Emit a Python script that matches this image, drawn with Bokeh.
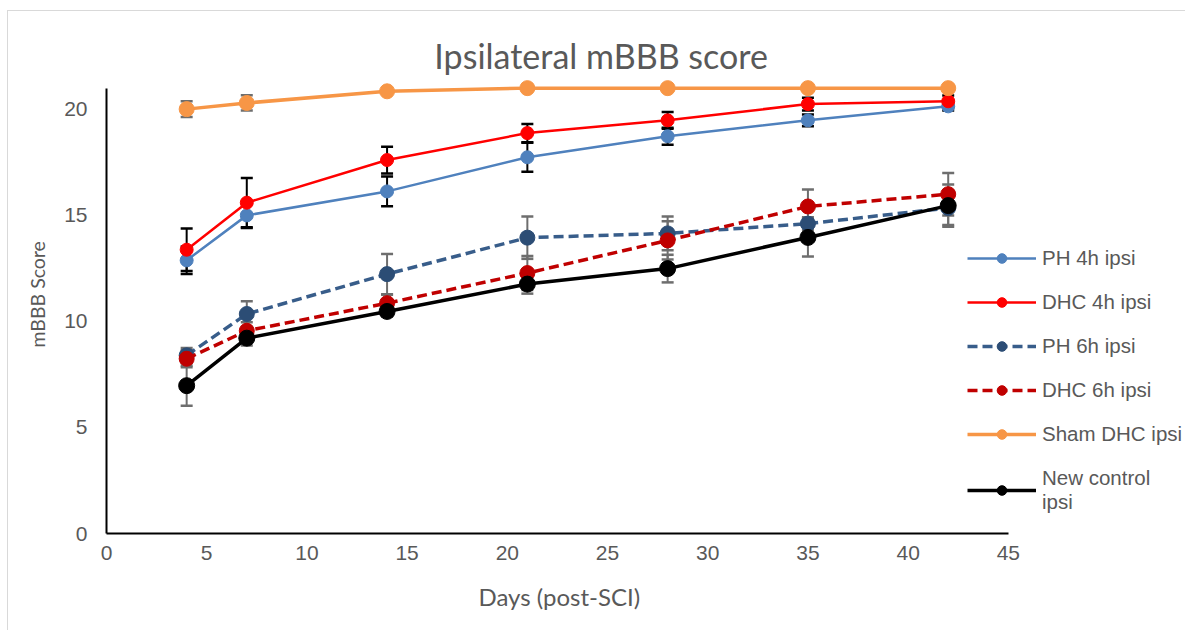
from bokeh.plotting import figure
from bokeh.models import Range1d, FixedTicker, Legend, LegendItem, Label, Title
from bokeh.embed import file_html
from bokeh.resources import INLINE

# ---- data ----
days = [4, 7, 14, 21, 28, 35, 42]

ph4 = [12.88, 15.0, 16.13, 17.74, 18.73, 19.48, 20.14]
ph4_err = [0.65, 0.6, 0.7, 0.68, 0.4, 0.28, 0.2]

dhc4 = [13.38, 15.6, 17.61, 18.88, 19.48, 20.25, 20.38]
dhc4_err = [1.0, 1.16, 0.63, 0.43, 0.4, 0.3, 0.27]

ph6 = [8.4, 10.35, 12.23, 13.95, 14.15, 14.61, 15.35]
ph6_err = [0.35, 0.6, 0.95, 1.0, 0.8, 0.3, 0.8]

dhc6 = [8.24, 9.56, 10.86, 12.28, 13.82, 15.42, 16.0]
dhc6_err = [0.4, 0.4, 0.4, 0.8, 0.9, 0.8, 1.0]

sham = [20.01, 20.3, 20.85, 21.0, 21.0, 21.0, 21.0]
sham_err = [0.37, 0.36, 0.0, 0.0, 0.0, 0.0, 0.0]

ctrl = [6.97, 9.21, 10.47, 11.76, 12.49, 13.96, 15.46]
ctrl_err = [0.95, 0.35, 0.25, 0.45, 0.65, 0.9, 1.0]

x_ticks = [0, 5, 10, 15, 20, 25, 30, 35, 40, 45]
y_ticks = [0, 5, 10, 15, 20]

title_text = "Ipsilateral mBBB score"
x_label = "Days (post-SCI)"
y_label = "mBBB Score"

series = [
    # name, values, errors, line color, marker color, width, dash, marker size, err color
    ("PH 4h ipsi", ph4, ph4_err, "#4F81BD", "#4F81BD", 2.5, "solid", 13, "#000000"),
    ("DHC 4h ipsi", dhc4, dhc4_err, "#FF0000", "#FF0000", 2.5, "solid", 13, "#000000"),
    ("PH 6h ipsi", ph6, ph6_err, "#385D8A", "#2C4D75", 3.5, "10 5", 15, "#6E6E6E"),
    ("DHC 6h ipsi", dhc6, dhc6_err, "#C00000", "#C00000", 3.5, "10 5", 15, "#6E6E6E"),
    ("Sham DHC ipsi", sham, sham_err, "#F79646", "#F79646", 3.5, "solid", 15, "#6E6E6E"),
    ("New control\nipsi", ctrl, ctrl_err, "#000000", "#000000", 3.5, "solid", 16, "#6E6E6E"),
]

p = figure(width=1178, height=620, output_backend="svg", toolbar_location=None,
           title=None,
           x_range=Range1d(0, 53.89), y_range=Range1d(0, 24.0),
           min_border_left=98, min_border_right=0, min_border_top=13, min_border_bottom=98)
p.styles = {"margin-left": "7px", "margin-top": "10px",
            "border-left": "1px solid #d9d9d9", "border-top": "1px solid #d9d9d9"}
p.outline_line_color = None
p.xgrid.visible = False
p.ygrid.visible = False
p.background_fill_color = "white"
p.border_fill_color = "white"

for ax, ticks, bounds in ((p.xaxis, x_ticks, (0, 45)), (p.yaxis, y_ticks, (0, 21))):
    ax.ticker = FixedTicker(ticks=ticks)
    ax.bounds = bounds
    ax.axis_line_color = "#000000"
    ax.axis_line_width = 2
    ax.major_tick_line_color = None
    ax.minor_tick_line_color = None
    ax.major_tick_out = 0
    ax.major_tick_in = 0
    ax.major_label_text_font = "Liberation Sans"
    ax.major_label_text_font_size = "21px"
    ax.major_label_text_color = "#595959"

p.xaxis.major_label_standoff = 12
p.yaxis.major_label_standoff = 19

# axis titles as side-panel titles, centred on the drawn axis lines
p.add_layout(Title(text=x_label, align="left", offset=372, vertical_align="bottom",
                   standoff=34, text_font="Lato", text_font_size="24px",
                   text_font_style="normal", text_color="#595959"), "below")
p.add_layout(Title(text=y_label, align="left", offset=186, vertical_align="bottom",
                   standoff=25, text_font="Lato", text_font_size="19.5px",
                   text_font_style="normal", text_color="#595959"), "left")

# error bars first
for name, vals, errs, lc, mc, lw, dash, ms, ec in series:
    lo = [v - e for v, e in zip(vals, errs)]
    hi = [v + e for v, e in zip(vals, errs)]
    p.segment(x0=days, y0=lo, x1=days, y1=hi, line_color=ec, line_width=2)
    p.scatter(x=days + days, y=lo + hi, marker="dash", size=12, line_color=ec, line_width=2.5)

items = []
for name, vals, errs, lc, mc, lw, dash, ms, ec in series:
    ln = p.line(x=days, y=vals, line_color=lc, line_width=lw, line_dash=dash)
    mk = p.scatter(x=days, y=vals, marker="circle", size=ms, fill_color=mc, line_color=mc)
    items.append(LegendItem(label=name, renderers=[ln, mk]))

legend = Legend(items=items, location=(861, 19), orientation="vertical",
                glyph_width=69, glyph_height=24, label_height=24, label_standoff=6,
                spacing=20, padding=0, margin=0,
                border_line_color=None, background_fill_alpha=0,
                label_text_font="Liberation Sans", label_text_font_size="20.5px",
                label_text_color="#595959")
p.add_layout(legend)

p.add_layout(Label(x=24.68, y=22.55, text=title_text, text_align="center",
                   text_baseline="middle", text_font="Lato", text_font_size="34px",
                   text_color="#595959"))

open("out.html", "w").write(file_html(p, INLINE))
